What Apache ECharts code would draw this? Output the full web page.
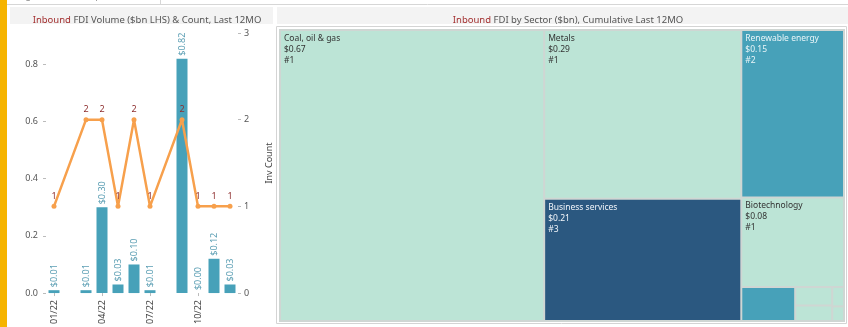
<!DOCTYPE html>
<html>
<head>
<meta charset="utf-8">
<script src="https://cdn.jsdelivr.net/npm/echarts@6/dist/echarts.min.js"></script>
<style>
  html, body { margin: 0; padding: 0; background: #fff; }
  #chart { width: 848px; height: 327px; }
</style>
</head>
<body>
<div id="chart"></div>
<script>
// monthly inbound FDI
const months = ['01/22', '02/22', '03/22', '04/22', '05/22', '06/22', '07/22', '08/22', '09/22', '10/22', '11/22', '12/22']
const volume = [0.01, null, 0.01, 0.30, 0.03, 0.10, 0.01, null, 0.82, 0.00, 0.12, 0.03]
const invCount = [1, null, 2, 2, 1, 2, 1, null, 2, 1, 1, 1]
const volumeTicks = [0, 0.2, 0.4, 0.6, 0.8]
const countTicks = [0, 1, 2, 3]

// sector treemap
const sectorNames = ['Coal, oil & gas', 'Metals', 'Business services', 'Renewable energy', 'Biotechnology',
  'Software & IT services', 'Chemicals', 'Consumer products', 'Transportation', 'Plastics']
const sectorValues = [0.67, 0.29, 0.21, 0.15, 0.08, 0.016, 0.006, 0.005, 0.002, 0.0015]
const sectorCounts = [1, 1, 3, 2, 1, 2, 1, 1, 1, 1]

const countColors = { 1: '#bce4d6', 2: '#47a1b9', 3: '#2b5880' }
const labelColors = { 1: '#333333', 2: '#e9f5f8', 3: '#f2f6fa' }

const chart = echarts.init(document.getElementById('chart'))

const treeData = sectorNames.map((name, i) => ({
  name,
  value: sectorValues[i],
  count: sectorCounts[i],
  itemStyle: { color: countColors[sectorCounts[i]] },
  label: {
    show: sectorValues[i] >= 0.05,
    color: labelColors[sectorCounts[i]]
  }
}))

const font = 'Noto Sans'
const titleRich = {
  r: { color: '#a33030', fontSize: 9.5, fontWeight: 'normal', fontFamily: font },
  g: { color: '#555', fontSize: 9.5, fontWeight: 'normal', fontFamily: font }
}

const option = {
  animation: false,
  textStyle: { fontFamily: font },
  title: [
    {
      text: '{r|Inbound}{g| FDI Volume ($bn LHS) & Count, Last 12MO}',
      left: 142, top: 10, textAlign: 'center',
      textStyle: { fontWeight: 'normal', fontSize: 9.5, rich: titleRich }
    },
    {
      text: '{r|Inbound}{g| FDI by Sector ($bn), Cumulative Last 12MO}',
      left: 563, top: 10, textAlign: 'center',
      textStyle: { fontWeight: 'normal', fontSize: 9.5, rich: titleRich }
    }
  ],
  graphic: [
    { type: 'rect', left: 0, top: 0, shape: { width: 7, height: 327 }, style: { fill: '#f6b400' }, z: 10 },
    { type: 'rect', left: 10, top: 7, shape: { width: 263, height: 17 }, style: { fill: '#f3f3f3' }, z: -1 },
    { type: 'rect', left: 277, top: 7, shape: { width: 571, height: 17 }, style: { fill: '#f3f3f3' }, z: -1 },
    { type: 'line', shape: { x1: 7, y1: 4.5, x2: 848, y2: 4.5 }, style: { stroke: '#d6d6d6', lineWidth: 1 } },
    { type: 'line', shape: { x1: 160.5, y1: 0, x2: 160.5, y2: 4 }, style: { stroke: '#d6d6d6', lineWidth: 1 } },
    { type: 'text', left: 15, top: -8, style: { text: 'Alignment created per investment', fill: '#888', font: '9px ' + font } },
    { type: 'rect', shape: { x: 276.5, y: 26.5, width: 570, height: 297 }, style: { fill: 'none', stroke: '#d4d4d4', lineWidth: 1 } }
  ],
  grid: { left: 46, right: 610, top: 33, bottom: 30 },
  xAxis: {
    type: 'category',
    data: months,
    axisLine: { show: false },
    axisTick: { show: true, interval: 2, length: 3, alignWithLabel: true, lineStyle: { color: '#bbb' } },
    axisLabel: { interval: 2, rotate: 90, fontSize: 9, color: '#444', margin: 7 }
  },
  yAxis: [
    {
      type: 'value', min: 0, max: 0.91, interval: 0.2,
      splitLine: { show: false },
      axisLine: { show: false },
      axisTick: { show: true, length: 3, lineStyle: { color: '#bbb' } },
      axisLabel: {
        fontSize: 9, color: '#555', margin: 8, showMaxLabel: false,
        formatter: v => volumeTicks.some(t => Math.abs(t - v) < 1e-6) ? v.toFixed(1) : ''
      }
    },
    {
      type: 'value', min: 0, max: 3, interval: 1, position: 'right',
      name: 'Inv Count', nameLocation: 'middle', nameGap: 27,
      nameTextStyle: { fontSize: 9, color: '#444' },
      splitLine: { show: false },
      axisLine: { show: false },
      axisTick: { show: true, length: 3, lineStyle: { color: '#bbb' } },
      axisLabel: {
        fontSize: 9, color: '#555', margin: 6,
        formatter: v => countTicks.includes(v) ? String(v) : ''
      }
    }
  ],
  series: [
    {
      name: 'Volume',
      type: 'bar',
      yAxisIndex: 0,
      data: volume,
      barWidth: 11,
      itemStyle: { color: '#47a1b9' },
      label: {
        show: true, position: 'top', rotate: 90, align: 'left', verticalAlign: 'middle',
        distance: 3, fontSize: 9, color: '#5c9fb4',
        formatter: p => '$' + p.value.toFixed(2)
      },
      z: 2
    },
    {
      name: 'Inv Count',
      type: 'line',
      yAxisIndex: 1,
      data: invCount,
      connectNulls: true,
      symbol: 'circle',
      symbolSize: 5,
      lineStyle: { color: '#f7a04c', width: 2.5 },
      itemStyle: { color: '#f7a04c' },
      label: { show: true, position: 'top', distance: 3, fontSize: 9, color: '#8e2f2f' },
      z: 3
    },
    {
      name: 'Sector',
      type: 'treemap',
      left: 279, top: 29, width: 566, height: 293,
      roam: false,
      nodeClick: false,
      breadcrumb: { show: false },
      visibleMin: 0,
      squareRatio: 0.5 * (1 + Math.sqrt(5)),
      itemStyle: { borderColor: '#cfd6d3', borderWidth: 1, gapWidth: 0 },
      label: {
        show: true, position: 'insideTopLeft', fontSize: 8.5, lineHeight: 11,
        padding: [2, 3], fontFamily: font,
        formatter: p => p.name + '\n$' + p.value.toFixed(2) + '\n#' + p.data.count
      },
      upperLabel: { show: false },
      data: treeData
    }
  ]
}

chart.setOption(option)
</script>
</body>
</html>
